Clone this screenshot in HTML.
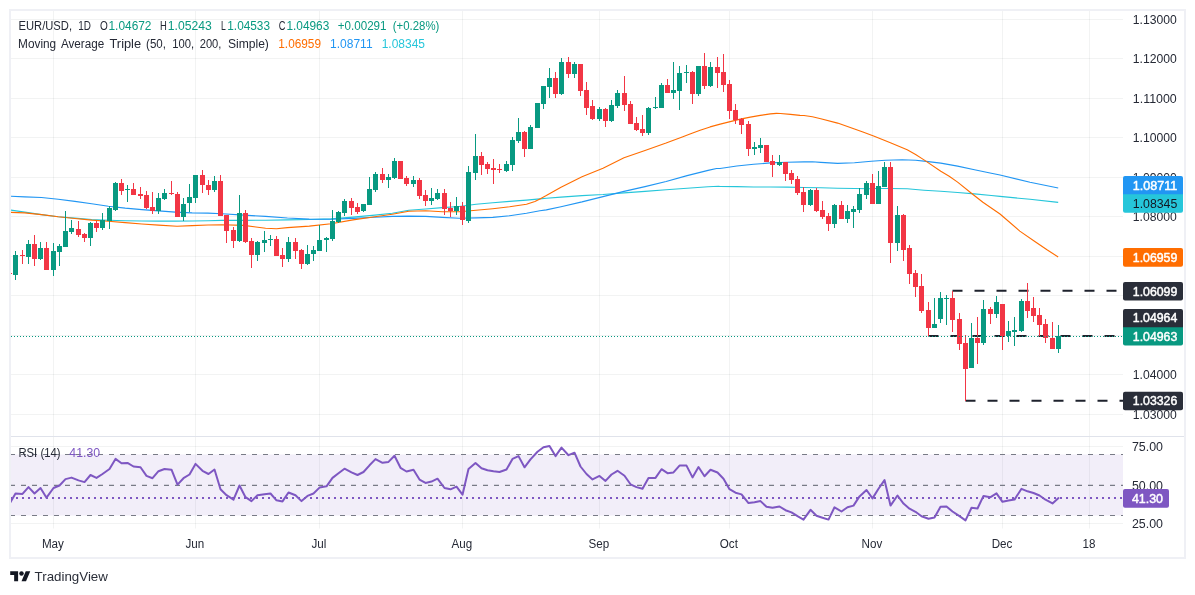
<!DOCTYPE html><html><head><meta charset="utf-8"><title>EUR/USD</title><style>html,body{margin:0;padding:0;background:#fff;width:1195px;height:595px;overflow:hidden;font-family:"Liberation Sans",sans-serif}</style></head><body>
<svg width="1195" height="595" viewBox="0 0 1195 595" style="position:absolute;left:0;top:0;will-change:transform">
<defs><clipPath id="plot"><rect x="11" y="11" width="1112.0" height="518"/></clipPath></defs>
<rect x="0" y="0" width="1195" height="595" fill="#fff"/>
<rect x="10" y="10" width="1175" height="548" fill="none" stroke="#eff0f5" stroke-width="2"/>
<path d="M53.5 11V528.5 M195.5 11V528.5 M319.5 11V528.5 M462.5 11V528.5 M599.5 11V528.5 M729.5 11V528.5 M872.5 11V528.5 M1002.5 11V528.5 M1089.5 11V528.5" stroke="#2a2e39" stroke-opacity="0.06" stroke-width="1" fill="none"/>
<path d="M11 19.5H1123 M11 58.5H1123 M11 98.5H1123 M11 137.5H1123 M11 177.5H1123 M11 216.5H1123 M11 256.5H1123 M11 295.5H1123 M11 335.5H1123 M11 374.5H1123 M11 414.5H1123 M11 446.5H1123 M11 523.5H1123" stroke="#2a2e39" stroke-opacity="0.06" stroke-width="1" fill="none"/>
<path d="M11 436.5H1184" stroke="#e0e3eb" stroke-width="1"/>
<g clip-path="url(#plot)">
<rect x="11" y="454.5" width="1112" height="61.0" fill="#7e57c2" fill-opacity="0.1"/>
<path d="M10 454.5H1123" stroke="#787b86" stroke-width="1.1" stroke-dasharray="5 6" fill="none"/>
<path d="M10 485.4H1123" stroke="#787b86" stroke-width="1.1" stroke-dasharray="5 6" fill="none"/>
<path d="M10 515.5H1123" stroke="#787b86" stroke-width="1.1" stroke-dasharray="5 6" fill="none"/>
<path d="M10 498.1H1123" stroke="#7e57c2" stroke-width="2" stroke-dasharray="2 4" fill="none"/>
<path d="M952.5 290.8H1123" stroke="#1e222d" stroke-width="2" stroke-dasharray="10 12" fill="none"/>
<path d="M928.5 336.0H1123" stroke="#1e222d" stroke-width="2" stroke-dasharray="10 12" fill="none"/>
<path d="M965.5 400.8H1123" stroke="#1e222d" stroke-width="2" stroke-dasharray="10 12" fill="none"/>
<path d="M10.5 210.1 L24.7 212.1 L41.5 214.6 L58.2 216.8 L74.9 218.1 L91.7 219.5 L108.4 220.3 L125.2 220.8 L141.9 221.0 L158.6 221.1 L175.4 221.1 L192.1 221.0 L208.0 220.8 L221.9 220.4 L243.7 220.4 L265.6 220.2 L287.4 219.9 L309.3 219.5 L331.1 218.9 L353.0 217.1 L374.9 215.1 L392.3 213.2 L408.8 210.3 L425.6 209.0 L442.4 207.6 L459.2 206.5 L476.0 204.3 L492.8 202.8 L509.6 201.4 L526.5 200.1 L539.9 198.9 L546.3 198.3 L561.0 197.1 L582.0 195.6 L603.0 194.5 L624.0 192.9 L645.0 191.4 L666.1 189.7 L687.1 188.2 L708.1 186.8 L718.6 186.3 L720.0 186.5 L736.8 186.6 L753.6 187.0 L770.4 187.0 L787.2 187.1 L804.0 187.5 L820.8 187.8 L837.6 188.2 L854.5 188.5 L871.3 188.7 L873.6 188.5 L890.4 188.5 L907.2 188.8 L924.0 190.2 L940.8 191.3 L957.6 192.5 L974.5 193.9 L991.3 195.5 L1000.0 196.4 L1030.0 199.3 L1058.2 202.4" stroke="#26c6da" stroke-width="1.1" fill="none" stroke-linejoin="round" stroke-linecap="butt"/>
<path d="M10.5 196.2 L24.7 196.9 L41.5 197.5 L58.2 199.2 L74.9 201.4 L91.7 203.7 L108.4 206.2 L125.2 208.1 L141.9 209.6 L158.6 210.9 L175.4 212.1 L192.1 212.9 L208.0 213.1 L221.9 213.8 L243.7 215.1 L265.6 216.4 L287.4 218.0 L309.3 219.1 L319.3 219.3 L331.1 219.3 L353.0 218.4 L374.9 217.3 L392.3 216.4 L408.8 216.1 L425.6 216.4 L442.4 217.4 L459.2 218.2 L476.0 217.9 L492.8 217.4 L509.6 215.7 L526.5 213.2 L539.9 210.7 L546.3 209.9 L561.0 206.7 L582.0 201.9 L603.0 196.6 L624.0 191.4 L645.0 186.6 L666.1 181.5 L687.1 175.6 L708.1 170.4 L716.5 168.5 L720.0 168.5 L736.8 166.0 L753.6 164.3 L770.4 162.9 L787.2 162.3 L804.0 161.9 L812.4 161.8 L820.8 162.4 L837.6 163.4 L854.5 162.8 L871.3 161.3 L885.4 160.3 L902.2 159.7 L915.6 160.3 L924.0 161.1 L940.8 163.1 L957.6 166.1 L974.5 169.8 L991.3 173.2 L1000.0 175.0 L1030.0 182.3 L1058.2 188.0" stroke="#2196f3" stroke-width="1.1" fill="none" stroke-linejoin="round" stroke-linecap="butt"/>
<path d="M10.5 212.4 L24.7 212.9 L41.5 214.6 L58.2 216.8 L74.9 218.5 L91.7 220.1 L108.4 221.3 L125.2 222.6 L141.9 224.0 L158.6 225.1 L177.0 226.2 L192.1 225.6 L208.0 225.0 L221.9 224.8 L243.7 225.4 L265.6 228.3 L276.5 228.7 L287.4 227.6 L309.3 226.1 L331.1 223.7 L353.0 219.9 L374.9 216.7 L392.3 214.3 L408.8 211.2 L425.6 210.8 L442.4 211.7 L459.2 211.8 L476.0 210.3 L492.8 208.7 L509.6 206.8 L526.5 204.3 L534.9 201.4 L539.9 198.9 L546.3 195.6 L561.0 187.2 L582.0 176.7 L603.0 168.3 L624.0 157.8 L645.0 150.4 L666.1 143.1 L682.9 136.8 L690.0 134.1 L700.1 130.3 L710.1 126.9 L720.2 124.1 L730.2 121.6 L740.3 119.1 L750.3 117.1 L760.3 115.4 L770.4 113.9 L776.4 113.4 L780.4 113.5 L790.5 114.4 L800.0 115.4 L804.0 115.5 L812.4 116.7 L820.8 118.7 L837.6 123.1 L854.5 129.0 L862.9 132.0 L873.6 135.9 L890.4 142.8 L907.2 149.8 L915.6 154.5 L924.0 159.9 L940.8 171.2 L949.2 176.2 L957.6 182.1 L971.1 193.0 L982.9 202.3 L1000.0 214.0 L1019.8 231.1 L1035.2 241.8 L1047.0 249.8 L1058.2 257.0" stroke="#ff6d00" stroke-width="1.1" fill="none" stroke-linejoin="round" stroke-linecap="butt"/>
<path d="M15.5 251V280 M28.5 240V264 M40.5 242V260 M53.5 243V276 M59.5 244V266 M65.5 211V247 M71.5 220V234 M90.5 222V246 M102.5 213V230 M109.5 206V229 M115.5 182V211 M127.5 185V202 M158.5 193V214 M164.5 189V200 M183.5 198V221 M189.5 184V212 M195.5 175V203 M214.5 176V192 M239.5 195V242 M257.5 241V261 M264.5 231V252 M270.5 235V246 M288.5 237V262 M307.5 245V265 M313.5 246V261 M319.5 225V251 M326.5 237V252 M332.5 210V241 M338.5 211V223 M344.5 199V216 M363.5 204V212 M369.5 177V205 M375.5 172V192 M388.5 174V188 M394.5 158V179 M413.5 176V187 M431.5 188V205 M437.5 189V200 M456.5 197V215 M468.5 166V223 M475.5 134V180 M506.5 161V172 M512.5 137V171 M518.5 118V143 M530.5 125V149 M537.5 103V128 M543.5 86V109 M549.5 68V98 M561.5 58V95 M574.5 62V78 M599.5 107V121 M611.5 100V122 M617.5 90V108 M648.5 107V135 M655.5 97V109 M661.5 83V108 M673.5 62V99 M679.5 66V110 M686.5 65V83 M698.5 66V96 M710.5 62V87 M754.5 142V155 M760.5 138V153 M779.5 155V166 M810.5 189V206 M834.5 204V228 M847.5 205V223 M853.5 206V228 M859.5 188V213 M866.5 181V199 M878.5 171V204 M884.5 162V187 M897.5 206V251 M934.5 298V328 M940.5 292V323 M946.5 295V325 M971.5 323V368 M983.5 300V345 M996.5 296V318 M1008.5 321V342 M1014.5 317V346 M1021.5 299V332 M1058.5 325V353" stroke="#089981" stroke-width="1" fill="none" shape-rendering="crispEdges"/>
<path d="M13 255h5V275h-5z M26 244h5V257h-5z M38 248h5V259h-5z M51 251h5V270h-5z M57 246h5V252h-5z M63 231h5V247h-5z M69 228h5V232h-5z M88 223h5V238h-5z M100 220h5V228h-5z M107 208h5V221h-5z M113 183h5V210h-5z M125 189h5V190h-5z M156 198h5V211h-5z M162 193h5V199h-5z M181 204h5V217h-5z M187 197h5V203h-5z M193 175h5V198h-5z M212 181h5V190h-5z M237 213h5V241h-5z M255 242h5V255h-5z M262 240h5V243h-5z M268 239h5V240h-5z M286 242h5V259h-5z M305 254h5V264h-5z M311 250h5V254h-5z M317 240h5V251h-5z M324 238h5V240h-5z M330 221h5V239h-5z M336 212h5V222h-5z M342 201h5V213h-5z M361 204h5V211h-5z M367 189h5V205h-5z M373 174h5V190h-5z M386 177h5V180h-5z M392 161h5V178h-5z M411 180h5V184h-5z M429 198h5V201h-5z M435 193h5V199h-5z M454 206h5V211h-5z M466 172h5V221h-5z M473 156h5V173h-5z M504 164h5V171h-5z M510 140h5V165h-5z M516 132h5V141h-5z M528 127h5V149h-5z M535 103h5V128h-5z M541 86h5V104h-5z M547 78h5V87h-5z M559 62h5V94h-5z M572 64h5V74h-5z M597 109h5V119h-5z M609 105h5V121h-5z M615 93h5V106h-5z M646 108h5V133h-5z M653 107h5V108h-5z M659 85h5V108h-5z M671 90h5V93h-5z M677 73h5V91h-5z M684 72h5V73h-5z M696 66h5V94h-5z M708 67h5V86h-5z M752 147h5V149h-5z M758 145h5V148h-5z M777 162h5V165h-5z M808 190h5V205h-5z M832 205h5V224h-5z M845 211h5V219h-5z M851 209h5V212h-5z M857 194h5V210h-5z M864 183h5V195h-5z M876 186h5V204h-5z M882 167h5V187h-5z M895 215h5V243h-5z M932 324h5V328h-5z M938 298h5V319h-5z M944 298h5V299h-5z M969 338h5V368h-5z M981 309h5V343h-5z M994 302h5V314h-5z M1006 331h5V336h-5z M1012 330h5V332h-5z M1019 301h5V331h-5z M1056 336h5V349h-5z" fill="#089981" shape-rendering="crispEdges"/>
<path d="M22.5 250V264 M34.5 235V266 M46.5 242V270 M78.5 221V237 M84.5 233V242 M96.5 221V232 M121.5 179V195 M133.5 183V195 M140.5 187V199 M146.5 191V209 M152.5 192V214 M171.5 181V195 M177.5 192V217 M202.5 170V193 M208.5 180V195 M220.5 175V216 M226.5 215V243 M233.5 227V248 M245.5 210V243 M251.5 238V268 M276.5 236V256 M282.5 248V267 M295.5 238V259 M301.5 249V269 M351.5 198V215 M357.5 203V214 M382.5 168V183 M400.5 161V179 M406.5 176V186 M419.5 178V199 M425.5 190V206 M444.5 189V215 M450.5 202V217 M462.5 202V225 M481.5 152V175 M487.5 162V174 M493.5 159V184 M499.5 164V173 M524.5 131V157 M555.5 72V98 M568.5 57V78 M580.5 64V96 M586.5 82V115 M592.5 100V120 M605.5 108V127 M624.5 76V111 M630.5 101V124 M636.5 117V131 M642.5 115V136 M667.5 79V93 M692.5 71V104 M704.5 53V89 M717.5 57V88 M723.5 54V92 M729.5 80V119 M735.5 104V124 M741.5 118V134 M748.5 121V156 M766.5 145V162 M772.5 155V177 M785.5 162V181 M791.5 170V184 M797.5 176V195 M803.5 187V212 M816.5 188V212 M822.5 201V219 M828.5 213V231 M841.5 201V219 M872.5 174V204 M890.5 162V263 M903.5 214V261 M909.5 245V284 M915.5 270V297 M921.5 274V313 M928.5 302V336 M952.5 291V332 M959.5 313V350 M965.5 335V401 M977.5 317V364 M990.5 307V324 M1002.5 304V350 M1027.5 283V318 M1033.5 297V322 M1039.5 308V336 M1045.5 319V343 M1052.5 322V349" stroke="#f23645" stroke-width="1" fill="none" shape-rendering="crispEdges"/>
<path d="M20 255h5V256h-5z M32 244h5V259h-5z M44 248h5V270h-5z M76 229h5V235h-5z M82 234h5V238h-5z M94 223h5V228h-5z M119 183h5V191h-5z M131 189h5V195h-5z M138 194h5V196h-5z M144 195h5V208h-5z M150 207h5V211h-5z M169 193h5V194h-5z M175 194h5V217h-5z M200 175h5V185h-5z M206 185h5V190h-5z M218 181h5V216h-5z M224 215h5V231h-5z M231 230h5V241h-5z M243 213h5V242h-5z M249 241h5V255h-5z M274 239h5V256h-5z M280 255h5V259h-5z M293 242h5V251h-5z M299 250h5V264h-5z M349 201h5V208h-5z M355 207h5V212h-5z M380 174h5V180h-5z M398 161h5V179h-5z M404 178h5V184h-5z M417 180h5V196h-5z M423 195h5V201h-5z M442 193h5V209h-5z M448 208h5V211h-5z M460 206h5V220h-5z M479 156h5V165h-5z M485 164h5V169h-5z M491 168h5V170h-5z M497 169h5V170h-5z M522 132h5V149h-5z M553 78h5V94h-5z M566 62h5V74h-5z M578 64h5V91h-5z M584 90h5V108h-5z M590 106h5V119h-5z M603 109h5V121h-5z M622 93h5V105h-5z M628 104h5V124h-5z M634 123h5V130h-5z M640 129h5V133h-5z M665 85h5V93h-5z M690 72h5V94h-5z M702 66h5V86h-5z M715 67h5V73h-5z M721 72h5V85h-5z M727 84h5V111h-5z M733 110h5V120h-5z M739 119h5V125h-5z M746 124h5V149h-5z M764 145h5V162h-5z M770 161h5V165h-5z M783 162h5V174h-5z M789 173h5V180h-5z M795 179h5V193h-5z M801 192h5V205h-5z M814 190h5V211h-5z M820 210h5V217h-5z M826 216h5V224h-5z M839 205h5V219h-5z M870 183h5V204h-5z M888 167h5V243h-5z M901 215h5V250h-5z M907 248h5V274h-5z M913 273h5V287h-5z M919 286h5V311h-5z M926 310h5V328h-5z M950 298h5V320h-5z M957 319h5V344h-5z M963 343h5V369h-5z M975 338h5V343h-5z M988 309h5V314h-5z M1000 304h5V336h-5z M1025 301h5V311h-5z M1031 308h5V316h-5z M1037 315h5V325h-5z M1043 324h5V338h-5z M1050 338h5V349h-5z M7 273h5V274h-5z" fill="#f23645" shape-rendering="crispEdges"/>
<path d="M9.5 503.9 L15.5 493.5 L22.5 493.9 L28.5 487.1 L34.5 493.5 L40.5 488.0 L46.5 497.7 L53.5 488.0 L59.5 485.5 L65.5 479.1 L71.5 477.6 L78.5 480.4 L84.5 482.1 L90.5 475.0 L96.5 477.9 L102.5 474.0 L109.5 469.0 L115.5 458.9 L121.5 463.3 L127.5 462.9 L133.5 466.5 L140.5 467.3 L146.5 475.9 L152.5 478.2 L158.5 471.2 L164.5 469.0 L171.5 469.7 L177.5 484.6 L183.5 478.2 L189.5 474.5 L195.5 463.9 L202.5 470.8 L208.5 474.0 L214.5 469.5 L220.5 489.2 L226.5 495.2 L233.5 499.7 L239.5 485.5 L245.5 497.2 L251.5 501.1 L257.5 495.2 L264.5 494.2 L270.5 493.5 L276.5 500.3 L282.5 501.4 L288.5 492.5 L295.5 495.2 L301.5 501.1 L307.5 495.9 L313.5 493.5 L319.5 487.6 L326.5 486.3 L332.5 477.9 L338.5 473.2 L344.5 468.7 L351.5 472.4 L357.5 475.0 L363.5 472.0 L369.5 465.3 L375.5 459.1 L382.5 462.8 L388.5 461.9 L394.5 455.7 L400.5 467.8 L406.5 471.5 L413.5 469.8 L419.5 479.6 L425.5 482.9 L431.5 481.6 L437.5 478.7 L444.5 488.0 L450.5 489.3 L456.5 486.6 L462.5 494.7 L468.5 469.0 L475.5 463.1 L481.5 468.3 L487.5 470.3 L493.5 471.3 L499.5 472.0 L506.5 469.5 L512.5 458.9 L518.5 456.1 L524.5 467.3 L530.5 459.4 L537.5 451.8 L543.5 447.3 L549.5 446.0 L555.5 456.1 L561.5 447.6 L568.5 455.2 L574.5 452.7 L580.5 466.5 L586.5 474.0 L592.5 479.4 L599.5 475.9 L605.5 480.9 L611.5 474.5 L617.5 470.8 L624.5 475.7 L630.5 484.3 L636.5 487.1 L642.5 488.8 L648.5 477.9 L655.5 477.9 L661.5 469.2 L667.5 473.2 L673.5 472.4 L679.5 465.6 L686.5 465.6 L692.5 477.4 L698.5 467.0 L704.5 476.2 L710.5 469.8 L717.5 472.5 L723.5 478.7 L729.5 489.2 L735.5 492.7 L741.5 494.4 L748.5 503.1 L754.5 502.3 L760.5 501.1 L766.5 506.8 L772.5 507.8 L779.5 506.5 L785.5 510.2 L791.5 512.4 L797.5 516.1 L803.5 519.6 L810.5 509.8 L816.5 515.7 L822.5 517.7 L828.5 519.6 L834.5 507.3 L841.5 511.5 L847.5 507.3 L853.5 505.6 L859.5 496.4 L866.5 490.0 L872.5 498.4 L878.5 488.8 L884.5 480.1 L890.5 505.6 L897.5 495.5 L903.5 503.6 L909.5 508.7 L915.5 511.8 L921.5 516.2 L928.5 518.7 L934.5 517.4 L940.5 506.8 L946.5 506.5 L952.5 511.5 L959.5 516.2 L965.5 520.4 L971.5 507.8 L977.5 508.5 L983.5 495.9 L990.5 497.2 L996.5 493.4 L1002.5 501.8 L1008.5 500.6 L1014.5 499.6 L1021.5 488.8 L1027.5 491.3 L1033.5 493.0 L1039.5 495.5 L1045.5 499.7 L1052.5 503.4 L1058.5 498.1" stroke="#7e57c2" stroke-width="2" fill="none" stroke-linejoin="round" stroke-linecap="round"/>
<path d="M11 336.5H1123" stroke="#089981" stroke-width="1" stroke-dasharray="1 2" fill="none"/>
</g>
<text x="1132.8" y="23.5" font-size="12" fill="#252935" font-family="Liberation Sans, sans-serif" textLength="44.0" lengthAdjust="spacingAndGlyphs">1.13000</text>
<text x="1132.8" y="63.0" font-size="12" fill="#252935" font-family="Liberation Sans, sans-serif" textLength="44.0" lengthAdjust="spacingAndGlyphs">1.12000</text>
<text x="1132.8" y="102.5" font-size="12" fill="#252935" font-family="Liberation Sans, sans-serif" textLength="44.0" lengthAdjust="spacingAndGlyphs">1.11000</text>
<text x="1132.8" y="142.0" font-size="12" fill="#252935" font-family="Liberation Sans, sans-serif" textLength="44.0" lengthAdjust="spacingAndGlyphs">1.10000</text>
<text x="1132.8" y="181.5" font-size="12" fill="#252935" font-family="Liberation Sans, sans-serif" textLength="44.0" lengthAdjust="spacingAndGlyphs">1.09000</text>
<text x="1132.8" y="221.0" font-size="12" fill="#252935" font-family="Liberation Sans, sans-serif" textLength="44.0" lengthAdjust="spacingAndGlyphs">1.08000</text>
<text x="1132.8" y="260.5" font-size="12" fill="#252935" font-family="Liberation Sans, sans-serif" textLength="44.0" lengthAdjust="spacingAndGlyphs">1.07000</text>
<text x="1132.8" y="300.0" font-size="12" fill="#252935" font-family="Liberation Sans, sans-serif" textLength="44.0" lengthAdjust="spacingAndGlyphs">1.06000</text>
<text x="1132.8" y="339.5" font-size="12" fill="#252935" font-family="Liberation Sans, sans-serif" textLength="44.0" lengthAdjust="spacingAndGlyphs">1.05000</text>
<text x="1132.8" y="379.0" font-size="12" fill="#252935" font-family="Liberation Sans, sans-serif" textLength="44.0" lengthAdjust="spacingAndGlyphs">1.04000</text>
<text x="1132.8" y="418.5" font-size="12" fill="#252935" font-family="Liberation Sans, sans-serif" textLength="44.0" lengthAdjust="spacingAndGlyphs">1.03000</text>
<text x="1131.9" y="450.6" font-size="12" fill="#252935" font-family="Liberation Sans, sans-serif" textLength="31.1" lengthAdjust="spacingAndGlyphs">75.00</text>
<text x="1131.9" y="489.6" font-size="12" fill="#252935" font-family="Liberation Sans, sans-serif" textLength="31.1" lengthAdjust="spacingAndGlyphs">50.00</text>
<text x="1131.9" y="527.8" font-size="12" fill="#252935" font-family="Liberation Sans, sans-serif" textLength="31.1" lengthAdjust="spacingAndGlyphs">25.00</text>
<rect x="1123" y="176.1" width="60" height="21.2" rx="2" ry="2" fill="#2196f3"/>
<text x="1132.8" y="189.5" font-size="12" fill="#fff" font-family="Liberation Sans, sans-serif" textLength="44.5" lengthAdjust="spacingAndGlyphs" stroke="#fff" stroke-width="0.45" stroke-linejoin="round">1.08711</text>
<path d="M1123 194.3h60V210.7a2 2 0 0 1 -2 2H1125a2 2 0 0 1 -2 -2z" fill="#26c6da"/>
<text x="1132.8" y="207.8" font-size="12" fill="#131722" font-family="Liberation Sans, sans-serif" textLength="44.5" lengthAdjust="spacingAndGlyphs">1.08345</text>
<rect x="1123" y="248.1" width="60" height="18.6" rx="2" ry="2" fill="#ff6d00"/>
<text x="1132.8" y="261.7" font-size="12" fill="#fff" font-family="Liberation Sans, sans-serif" textLength="44.5" lengthAdjust="spacingAndGlyphs" stroke="#fff" stroke-width="0.45" stroke-linejoin="round">1.06959</text>
<rect x="1123" y="282.0" width="60" height="18.6" rx="2" ry="2" fill="#2a2e39"/>
<text x="1132.8" y="295.6" font-size="12" fill="#fff" font-family="Liberation Sans, sans-serif" textLength="44.5" lengthAdjust="spacingAndGlyphs" stroke="#fff" stroke-width="0.45" stroke-linejoin="round">1.06099</text>
<rect x="1123" y="309.0" width="60" height="21.3" rx="2" ry="2" fill="#2a2e39"/>
<text x="1132.8" y="322.4" font-size="12" fill="#fff" font-family="Liberation Sans, sans-serif" textLength="44.5" lengthAdjust="spacingAndGlyphs" stroke="#fff" stroke-width="0.45" stroke-linejoin="round">1.04964</text>
<path d="M1123 327.3h60V343.6a2 2 0 0 1 -2 2H1125a2 2 0 0 1 -2 -2z" fill="#089981"/>
<text x="1132.8" y="340.8" font-size="12" fill="#fff" font-family="Liberation Sans, sans-serif" textLength="44.5" lengthAdjust="spacingAndGlyphs" stroke="#fff" stroke-width="0.45" stroke-linejoin="round">1.04963</text>
<rect x="1123" y="391.7" width="60" height="18.6" rx="2" ry="2" fill="#2a2e39"/>
<text x="1132.8" y="405.3" font-size="12" fill="#fff" font-family="Liberation Sans, sans-serif" textLength="44.5" lengthAdjust="spacingAndGlyphs" stroke="#fff" stroke-width="0.45" stroke-linejoin="round">1.03326</text>
<rect x="1123" y="489.1" width="46" height="18.6" rx="2" ry="2" fill="#7e57c2"/>
<text x="1131.9" y="502.7" font-size="12" fill="#fff" font-family="Liberation Sans, sans-serif" textLength="31.1" lengthAdjust="spacingAndGlyphs" stroke="#fff" stroke-width="0.45" stroke-linejoin="round">41.30</text>
<text x="41.9" y="547.6" font-size="12" fill="#252935" font-family="Liberation Sans, sans-serif" textLength="22.0" lengthAdjust="spacingAndGlyphs">May</text>
<text x="185.5" y="547.6" font-size="12" fill="#252935" font-family="Liberation Sans, sans-serif" textLength="18.8" lengthAdjust="spacingAndGlyphs">Jun</text>
<text x="311.5" y="547.6" font-size="12" fill="#252935" font-family="Liberation Sans, sans-serif" textLength="14.9" lengthAdjust="spacingAndGlyphs">Jul</text>
<text x="451.5" y="547.6" font-size="12" fill="#252935" font-family="Liberation Sans, sans-serif" textLength="20.7" lengthAdjust="spacingAndGlyphs">Aug</text>
<text x="588.5" y="547.6" font-size="12" fill="#252935" font-family="Liberation Sans, sans-serif" textLength="20.7" lengthAdjust="spacingAndGlyphs">Sep</text>
<text x="719.8" y="547.6" font-size="12" fill="#252935" font-family="Liberation Sans, sans-serif" textLength="18.1" lengthAdjust="spacingAndGlyphs">Oct</text>
<text x="861.6" y="547.6" font-size="12" fill="#252935" font-family="Liberation Sans, sans-serif" textLength="20.7" lengthAdjust="spacingAndGlyphs">Nov</text>
<text x="991.7" y="547.6" font-size="12" fill="#252935" font-family="Liberation Sans, sans-serif" textLength="20.7" lengthAdjust="spacingAndGlyphs">Dec</text>
<text x="1082.5" y="547.6" font-size="12" fill="#252935" font-family="Liberation Sans, sans-serif" textLength="12.9" lengthAdjust="spacingAndGlyphs">18</text>
<text x="18.5" y="30.3" font-size="12" fill="#252935" font-family="Liberation Sans, sans-serif" textLength="53.5" lengthAdjust="spacingAndGlyphs">EUR/USD,</text>
<text x="78.3" y="30.3" font-size="12" fill="#252935" font-family="Liberation Sans, sans-serif" textLength="12.7" lengthAdjust="spacingAndGlyphs">1D</text>
<text x="100.0" y="30.3" font-size="12" fill="#252935" font-family="Liberation Sans, sans-serif" textLength="7.8" lengthAdjust="spacingAndGlyphs">O</text>
<text x="108.5" y="30.3" font-size="12" fill="#089981" font-family="Liberation Sans, sans-serif" textLength="43.0" lengthAdjust="spacingAndGlyphs">1.04672</text>
<text x="160.1" y="30.3" font-size="12" fill="#252935" font-family="Liberation Sans, sans-serif" textLength="6.8" lengthAdjust="spacingAndGlyphs">H</text>
<text x="167.8" y="30.3" font-size="12" fill="#089981" font-family="Liberation Sans, sans-serif" textLength="43.9" lengthAdjust="spacingAndGlyphs">1.05243</text>
<text x="221.0" y="30.3" font-size="12" fill="#252935" font-family="Liberation Sans, sans-serif" textLength="4.8" lengthAdjust="spacingAndGlyphs">L</text>
<text x="227.3" y="30.3" font-size="12" fill="#089981" font-family="Liberation Sans, sans-serif" textLength="42.7" lengthAdjust="spacingAndGlyphs">1.04533</text>
<text x="278.7" y="30.3" font-size="12" fill="#252935" font-family="Liberation Sans, sans-serif" textLength="6.7" lengthAdjust="spacingAndGlyphs">C</text>
<text x="286.4" y="30.3" font-size="12" fill="#089981" font-family="Liberation Sans, sans-serif" textLength="42.9" lengthAdjust="spacingAndGlyphs">1.04963</text>
<text x="337.8" y="30.3" font-size="12" fill="#089981" font-family="Liberation Sans, sans-serif" textLength="48.7" lengthAdjust="spacingAndGlyphs">+0.00291</text>
<text x="392.8" y="30.3" font-size="12" fill="#089981" font-family="Liberation Sans, sans-serif" textLength="46.6" lengthAdjust="spacingAndGlyphs">(+0.28%)</text>
<text x="18.1" y="48.2" font-size="12" fill="#252935" font-family="Liberation Sans, sans-serif" textLength="38.1" lengthAdjust="spacingAndGlyphs">Moving</text>
<text x="60.9" y="48.2" font-size="12" fill="#252935" font-family="Liberation Sans, sans-serif" textLength="43.3" lengthAdjust="spacingAndGlyphs">Average</text>
<text x="109.5" y="48.2" font-size="12" fill="#252935" font-family="Liberation Sans, sans-serif" textLength="31.6" lengthAdjust="spacingAndGlyphs">Triple</text>
<text x="146.1" y="48.2" font-size="12" fill="#252935" font-family="Liberation Sans, sans-serif" textLength="19.9" lengthAdjust="spacingAndGlyphs">(50,</text>
<text x="172.2" y="48.2" font-size="12" fill="#252935" font-family="Liberation Sans, sans-serif" textLength="21.9" lengthAdjust="spacingAndGlyphs">100,</text>
<text x="199.7" y="48.2" font-size="12" fill="#252935" font-family="Liberation Sans, sans-serif" textLength="21.7" lengthAdjust="spacingAndGlyphs">200,</text>
<text x="227.9" y="48.2" font-size="12" fill="#252935" font-family="Liberation Sans, sans-serif" textLength="41.0" lengthAdjust="spacingAndGlyphs">Simple)</text>
<text x="278.3" y="48.2" font-size="12" fill="#ff6d00" font-family="Liberation Sans, sans-serif" textLength="42.7" lengthAdjust="spacingAndGlyphs">1.06959</text>
<text x="330.1" y="48.2" font-size="12" fill="#2196f3" font-family="Liberation Sans, sans-serif" textLength="42.5" lengthAdjust="spacingAndGlyphs">1.08711</text>
<text x="381.7" y="48.2" font-size="12" fill="#26c6da" font-family="Liberation Sans, sans-serif" textLength="43.3" lengthAdjust="spacingAndGlyphs">1.08345</text>
<text x="18.4" y="456.5" font-size="12" fill="#252935" font-family="Liberation Sans, sans-serif" textLength="42.1" lengthAdjust="spacingAndGlyphs">RSI (14)</text>
<text x="69.3" y="456.5" font-size="12" fill="#7e57c2" font-family="Liberation Sans, sans-serif" textLength="30.8" lengthAdjust="spacingAndGlyphs">41.30</text>
<g transform="translate(10.2,568.9) scale(0.565)" fill="#131722"><path d="M14 22H7V11H0V4h14v18zM28 22h-8l7.5-18h8L28 22z"/><circle cx="20" cy="8" r="4"/></g>
<text x="34.6" y="581.3" font-size="13.2" fill="#2a2e39" font-family="Liberation Sans, sans-serif" textLength="73.3" lengthAdjust="spacingAndGlyphs">TradingView</text>
</svg>
</body></html>
